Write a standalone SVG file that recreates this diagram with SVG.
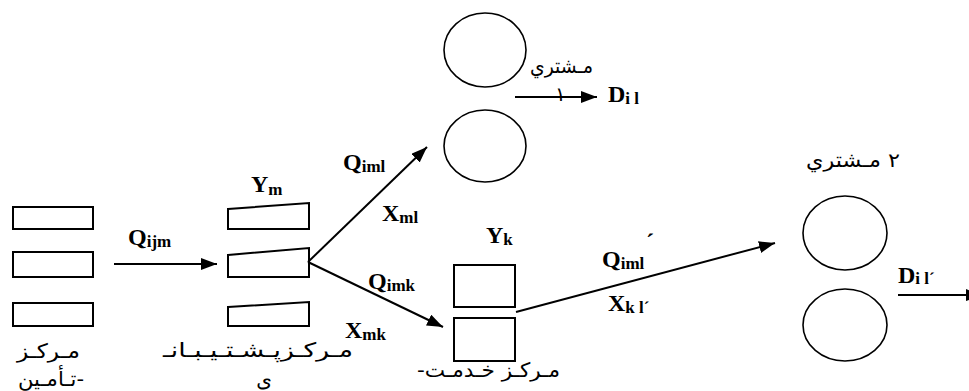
<svg xmlns="http://www.w3.org/2000/svg" width="969" height="391" viewBox="0 0 969 391">
  <style>
    .box { fill: #fff; stroke: #000; stroke-width: 2; }
    .cust { fill: #fff; stroke: #000; stroke-width: 1.6; }
    .link { fill: none; stroke: #000; stroke-width: 2; }
    .sym { font-family: 'Liberation Serif', 'Times New Roman', serif; font-weight: bold; font-size: 24px; fill: #000; }
    .sub { font-size: 17px; }
    .fa { font-family: 'DejaVu Sans', sans-serif; font-size: 20px; fill: #000; }
  </style>
  <defs>
    <marker id="arrow" markerUnits="userSpaceOnUse" markerWidth="17" markerHeight="13" refX="16" refY="6" orient="auto">
      <path d="M0,0 L16,6 L0,12 Z" fill="#000"/>
    </marker>
  </defs>

  <rect width="969" height="391" fill="#fff"/>

  <!-- supply centres -->
  <g id="supply">
    <rect class="box" x="13" y="207" width="80" height="22"/>
    <rect class="box" x="13" y="252" width="80" height="25"/>
    <rect class="box" x="13" y="303" width="80" height="23"/>
    <text class="fa" x="80" y="358" direction="rtl" text-anchor="start" textLength="63" lengthAdjust="spacingAndGlyphs">مـركـز</text>
    <text class="fa" x="84" y="386" direction="rtl" text-anchor="start" textLength="66" lengthAdjust="spacingAndGlyphs">-تـأمـين</text>
  </g>

  <!-- support centres -->
  <g id="support">
    <polygon class="box" points="228,209 309,203 309,229 228,229"/>
    <polygon class="box" points="228,255 309,248 309,277 228,277"/>
    <polygon class="box" points="228,307 309,302 309,326 228,326"/>
    <text class="sym" x="251" y="192">Y<tspan class="sub" dy="3">m</tspan></text>
    <text class="fa" x="353" y="357" direction="rtl" text-anchor="start" textLength="190" lengthAdjust="spacingAndGlyphs">مـركـزپـشـتـيـبـانـ</text>
    <text class="fa" x="272" y="387" direction="rtl" text-anchor="start">ی</text>
  </g>

  <!-- service centre -->
  <g id="service">
    <rect class="box" x="454" y="265" width="61" height="42"/>
    <rect class="box" x="454" y="318" width="61" height="43"/>
    <text class="sym" x="486" y="243">Y<tspan class="sub" dy="2">k</tspan></text>
    <text class="fa" x="560" y="377" direction="rtl" text-anchor="start" textLength="143" lengthAdjust="spacingAndGlyphs">مـركـز خـدمـت-</text>
  </g>

  <!-- customer 1 -->
  <g id="customer1">
    <ellipse class="cust" cx="485" cy="50" rx="41" ry="37"/>
    <ellipse class="cust" cx="485" cy="146" rx="41" ry="36"/>
    <text class="fa" x="593" y="73" direction="rtl" text-anchor="start" textLength="63" lengthAdjust="spacingAndGlyphs">مـشتري</text>
    <text class="fa" x="555" y="101">١</text>
    <text class="sym" x="608" y="102">D<tspan class="sub" dy="2">i l</tspan></text>
  </g>

  <!-- customer 2 -->
  <g id="customer2">
    <ellipse class="cust" cx="845" cy="233" rx="42" ry="37"/>
    <ellipse class="cust" cx="845" cy="325" rx="42" ry="36"/>
    <text class="fa" x="900" y="167" direction="rtl" text-anchor="start" textLength="94" lengthAdjust="spacingAndGlyphs">٢  مـشتري</text>
    <text class="sym" x="898" y="283">D<tspan class="sub" dy="1">i l´</tspan></text>
  </g>

  <!-- flows between levels -->
  <g id="connectors">
    <line class="link" x1="114" y1="264" x2="217" y2="264" marker-end="url(#arrow)"/>
    <line class="link" x1="308" y1="262" x2="427" y2="147" marker-end="url(#arrow)"/>
    <line class="link" x1="308" y1="262" x2="443" y2="327" marker-end="url(#arrow)"/>
    <line class="link" x1="516" y1="312" x2="775" y2="243" marker-end="url(#arrow)"/>
    <line class="link" x1="515" y1="97" x2="597" y2="97" marker-end="url(#arrow)"/>
    <line class="link" x1="898" y1="295" x2="982" y2="295" marker-end="url(#arrow)"/>
  </g>

  <!-- flow labels -->
  <g id="labels">
    <text class="sym" x="128" y="245">Q<tspan class="sub" dy="2">ijm</tspan></text>
    <text class="sym" x="343" y="170">Q<tspan class="sub" dy="2">iml</tspan></text>
    <text class="sym" x="382" y="221">X<tspan class="sub" dy="2">ml</tspan></text>
    <text class="sym" x="368" y="289">Q<tspan class="sub" dy="2">imk</tspan></text>
    <text class="sym" x="345" y="338">X<tspan class="sub" dy="2">mk</tspan></text>
    <text class="sym" x="602" y="267">Q<tspan class="sub" dy="2">iml</tspan></text>
    <text class="sym" x="646" y="250" font-size="16">´</text>
    <text class="sym" x="608" y="311">X<tspan class="sub" dy="2">k l´</tspan></text>
  </g>
</svg>
